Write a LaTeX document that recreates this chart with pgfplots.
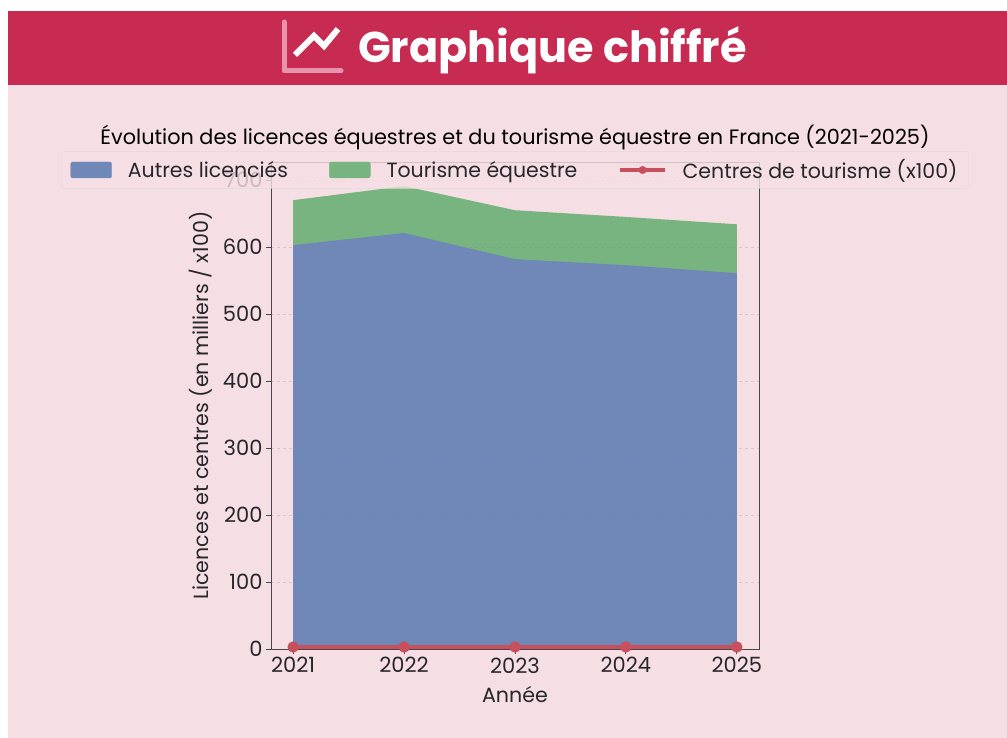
\documentclass[border=0pt]{standalone}
\usepackage{pgfplots}
\pgfplotsset{compat=1.18}
\usepackage{fontspec}
\setmainfont{Poppins}
\definecolor{bgpink}{HTML}{F6DFE4}
\definecolor{headred}{HTML}{C72B52}
\definecolor{iconpink}{HTML}{E993AB}
\definecolor{ablue}{HTML}{6F88B8}
\definecolor{agreen}{HTML}{78B47F}
\definecolor{lred}{HTML}{C84F5C}
\definecolor{ink}{HTML}{26262B}
\pgfplotstableread{
year autres total centres
2021 603 670 3
2022 621 691 3
2023 582 655 3
2024 573 645 3
2025 561 634 3
}\datatable
\begin{document}
\begin{tikzpicture}[x=1pt,y=1pt]
\path[use as bounding box] (0,0) rectangle (1007,738);
\fill[white] (0,0) rectangle (1007,738);
\fill[bgpink] (8,0) rectangle (1007,653);
\fill[headred] (8,653) rectangle (1007,727);
% icon
\draw[iconpink,line width=5pt,line cap=round,line join=round] (284,716) -- (284,667) -- (341,667);
\draw[white,line width=6pt,line join=miter,line cap=butt] (295,683) -- (314,702) -- (324,692) -- (338,709);
\node[anchor=west,text=white,font=\fontsize{43}{48}\selectfont\bfseries,inner sep=0pt] at (358,688) {Graphique chiffré};
\node[anchor=center,text=black,font=\fontsize{20.8}{24}\selectfont,inner sep=0pt] at (515,600) {Évolution des licences équestres et du tourisme équestre en France (2021-2025)};
\begin{axis}[
  at={(271pt,89pt)},anchor=south west,
  scale only axis,width=488pt,height=487pt,
  xmin=2020.8,xmax=2025.2,ymin=0,ymax=727,
  axis on top,
  xtick={2021,2022,2023,2024,2025},
  ytick={0,100,200,300,400,500,600,700},
  xticklabel style={/pgf/number format/1000 sep={}},
  /pgf/number format/assume math mode=true,
  tick label style={font=\fontsize{21}{24}\selectfont,text=ink},
  label style={font=\fontsize{20.6}{24}\selectfont,text=ink},
  xlabel={Année},ylabel={Licences et centres (en milliers / x100)},
  xlabel style={yshift=-6pt},ylabel style={yshift=4pt},
  axis line style={draw=ink!85,line width=0.9pt},
  tick style={draw=ink!85,line width=0.9pt},
  tick align=outside,tick pos=left,major tick length=5pt,
  ymajorgrids,grid style={dashed,draw=gray,draw opacity=0.25,line width=0.4pt},
  legend columns=3,
  legend style={at={(0.5,1.0)},anchor=center,xshift=0pt,yshift=-8pt,
    draw=gray!30,rounded corners=2pt,fill=bgpink,fill opacity=0.8,draw opacity=0.8,text opacity=1,
    font=\fontsize{20.5}{24}\selectfont,text=ink,
    /tikz/every even column/.append style={column sep=39pt},
    /tikz/every odd column/.append style={column sep=14pt},
    inner xsep=9pt,inner ysep=6pt},
  legend cell align=left,
]
\addlegendimage{legend image code/.code={\fill[ablue,fill opacity=1] (0pt,-8pt) rectangle (41pt,8pt);}}
\addlegendentry{Autres licenciés}
\addlegendimage{legend image code/.code={\fill[agreen,fill opacity=1] (0pt,-8pt) rectangle (41pt,8pt);}}
\addlegendentry{Tourisme équestre}
\addlegendimage{legend image code/.code={\draw[lred,line width=3.2pt,draw opacity=1] (0pt,0pt) -- (45pt,0pt);\fill[lred,fill opacity=1] (22.5pt,0pt) circle (3.8pt);}}
\addlegendentry{Centres de tourisme (x100)}
\addplot[forget plot,draw=none,fill=agreen] table[x=year,y=total]{\datatable}\closedcycle;
\addplot[forget plot,draw=none,fill=ablue] table[x=year,y=autres]{\datatable}\closedcycle;
\addplot[forget plot,draw=lred,line width=3.2pt,mark=*,mark size=4pt,mark options={fill=lred,draw=lred}]
  table[x=year,y=centres]{\datatable};
\end{axis}
\end{tikzpicture}
\end{document}
